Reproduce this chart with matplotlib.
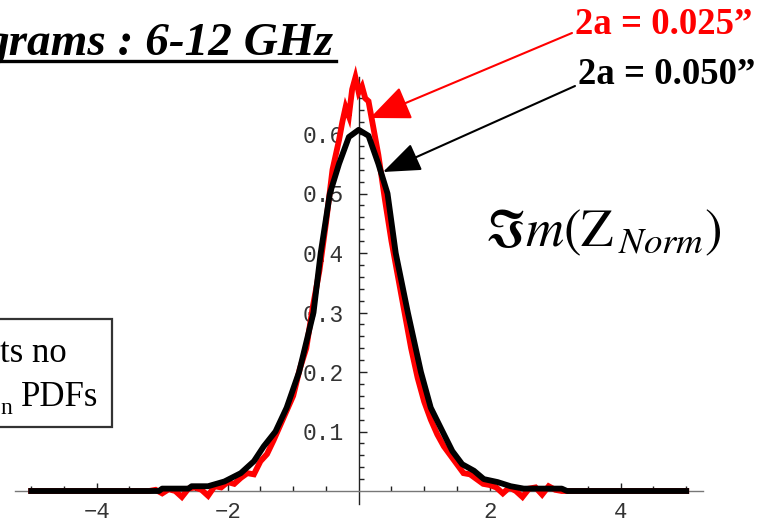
import numpy as np
import matplotlib
matplotlib.use("Agg")
import matplotlib.pyplot as plt
from matplotlib.patches import Rectangle

# black curve: 2a = 0.050"
x_050 = [-5.0, -3.05, -3.0, -2.6, -2.55, -2.3, -2.05, -1.8, -1.6, -1.45, -1.27, -1.1,
         -0.91, -0.8, -0.69, -0.58, -0.44, -0.3, -0.15, 0.0, 0.15, 0.3, 0.44, 0.565,
         0.75, 0.95, 1.1, 1.28, 1.43, 1.58, 1.76, 1.91, 2.12, 2.32, 2.52, 3.1, 3.18, 5.0]
y_050 = [0.0, 0.0, 0.004, 0.004, 0.008, 0.008, 0.016, 0.03, 0.05, 0.075, 0.10, 0.14,
         0.20, 0.25, 0.30, 0.40, 0.50, 0.55, 0.595, 0.607, 0.597, 0.55, 0.50, 0.40,
         0.30, 0.20, 0.14, 0.10, 0.067, 0.045, 0.034, 0.02, 0.015, 0.008, 0.004, 0.004, 0.0, 0.0]

# red curve: 2a = 0.025" (noisy histogram)
x_025 = [-5.0, -3.2, -3.1, -3.0, -2.9, -2.8, -2.7, -2.6, -2.5, -2.4, -2.3, -2.2, -2.1,
         -2.0, -1.9, -1.8, -1.7, -1.6, -1.5, -1.4, -1.3, -1.2, -1.1, -1.0, -0.9, -0.8,
         -0.7, -0.6, -0.5, -0.4, -0.3, -0.25, -0.2, -0.15, -0.1, -0.05, 0.0, 0.05, 0.1,
         0.15, 0.2, 0.3, 0.4, 0.5, 0.6, 0.7, 0.8, 0.9, 1.0, 1.1, 1.2, 1.3, 1.4, 1.5,
         1.6, 1.7, 1.8, 1.9, 2.0, 2.1, 2.2, 2.3, 2.4, 2.5, 2.6, 2.7, 2.8, 2.9, 3.0,
         3.1, 3.2, 5.0]
y_025 = [0.0, 0.0, 0.002, -0.004, 0.003, 0.0, -0.01, 0.004, 0.006, 0.002, -0.008, 0.008, 0.006,
         0.015, 0.012, 0.022, 0.03, 0.028, 0.05, 0.062, 0.085, 0.11, 0.135, 0.16, 0.205, 0.24,
         0.31, 0.37, 0.45, 0.54, 0.59, 0.62, 0.645, 0.63, 0.675, 0.695, 0.67, 0.68, 0.66,
         0.655, 0.625, 0.565, 0.49, 0.42, 0.36, 0.30, 0.24, 0.19, 0.15, 0.12, 0.095, 0.075, 0.06, 0.045,
         0.03, 0.028, 0.02, 0.012, 0.01, 0.006, -0.004, 0.006, 0.0, -0.01, 0.004, 0.006, -0.006, 0.008, 0.002,
         0.0, 0.0, 0.0]

x_major = [-4, -2, 2, 4]
x_minor = [-5, -4.5, -3.5, -3, -2.5, -1.5, -1, -0.5, 0.5, 1, 1.5, 2.5, 3, 3.5, 4.5, 5]
y_major = [0.1, 0.2, 0.3, 0.4, 0.5, 0.6]
y_minor = np.arange(0.02, 0.69, 0.02)

W, H = 764, 525
fig = plt.figure(figsize=(W / 100, H / 100), dpi=100)
ax = fig.add_axes([0, 0, 1, 1])

def px(x, y):
    return x / W, 1 - y / H

# map pixels to data: x=0 at px 358.7, 65.5 px/unit ; y=0 at px 491, 595 px/unit
ax.set_xlim((0 - 358.7) / 65.5, (W - 358.7) / 65.5)
ax.set_ylim((491 - H) / 595, 491 / 595)

ax.plot(x_025, y_025, color='#ff0000', lw=4.2, zorder=3, solid_joinstyle='miter')
ax.plot(x_050, y_050, color='black', lw=4.2, zorder=4)

for s in ['top', 'right']:
    ax.spines[s].set_visible(False)
ax.spines['left'].set_position(('data', 0))
ax.spines['bottom'].set_position(('data', 0))
ax.spines['bottom'].set_bounds(-5.25, 5.25)
ax.spines['left'].set_bounds(-0.022, 0.695)
ax.spines['bottom'].set_color('#777777')
ax.spines['left'].set_color('#222222')
ax.spines['bottom'].set_linewidth(1.0)
ax.spines['left'].set_linewidth(1.0)

ax.set_xticks(x_major)
ax.set_xticks(x_minor, minor=True)
ax.set_yticks(y_major)
ax.set_yticks(y_minor, minor=True)
ax.set_yticklabels([f'{v:.1f}' for v in y_major])
ax.tick_params(which='major', direction='in', length=6, width=1, color='#222222',
               labelsize=16.5, labelcolor='#333333', pad=11)
ax.tick_params(axis='x', which='major', labelsize=16, pad=8)
ax.tick_params(which='minor', direction='in', length=3.5, width=1, color='#222222')
for lab in ax.get_xticklabels() + ax.get_yticklabels():
    lab.set_family(['Liberation Mono', 'DejaVu Sans Mono'])

# title (cropped at left), underlined
fig.text(*px(334, 55), 'grams : 6-12 GHz', ha='right', va='baseline',
         family='Liberation Serif', weight='bold', style='italic', fontsize=34)
ax.plot([0, 336 / W], [1 - 61 / H, 1 - 61 / H], transform=fig.transFigure,
        color='black', lw=2.4, clip_on=False)

# legends with arrows
fig.text(*px(575, 25), '2a = 0.025\u201d', ha='left', va='center',
         family='Liberation Serif', weight='bold', fontsize=26.5, color='#ff0000')
fig.text(*px(578, 75), '2a = 0.050\u201d', ha='left', va='center',
         family='Liberation Serif', weight='bold', fontsize=26.5, color='black')
ax.annotate('', xy=(370, H - 118), xytext=(572, H - 33), xycoords='figure pixels',
            textcoords='figure pixels',
            arrowprops=dict(arrowstyle='-|>,head_length=1.4,head_width=0.6',
                            mutation_scale=18, color='#ff0000', lw=1.5,
                            shrinkA=0, shrinkB=0))
ax.annotate('', xy=(383, H - 172), xytext=(575, H - 86), xycoords='figure pixels',
            textcoords='figure pixels',
            arrowprops=dict(arrowstyle='-|>,head_length=1.3,head_width=0.5',
                            mutation_scale=18, color='black', lw=1.5,
                            shrinkA=0, shrinkB=0))

# quantity label
plt.rcParams['mathtext.fontset'] = 'stix'
fig.text(*px(485, 232), r'$\Im m(\mathrm{Z}_{\,Norm})$', ha='left', va='center',
         fontsize=38, color='black')

# partially visible text box on the left
fig.patches.append(Rectangle(px(-5, 427), 117 / W, 108 / H, transform=fig.transFigure,
                             fill=False, edgecolor='#333333', lw=1.6))
fig.text(*px(67, 362), 'ts no', ha='right', va='baseline',
         family='Liberation Serif', fontsize=25)
fig.text(*px(98, 406), 'PDFs', ha='right', va='baseline',
         family='Liberation Serif', fontsize=25)
fig.text(*px(12, 414), 'n', ha='right', va='baseline',
         family='Liberation Serif', fontsize=17)

fig.savefig('out.png', dpi=100)
